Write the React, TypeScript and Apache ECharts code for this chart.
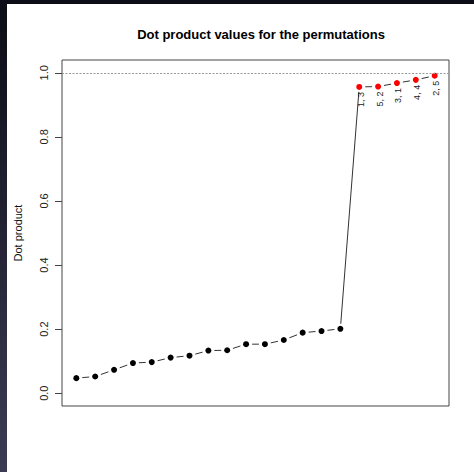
import React, { useEffect, useRef } from "react";
import * as echarts from "echarts";

// Permutation order along the x axis
const permIndex = [1, 2, 3, 4, 5, 6, 7, 8, 9, 10, 11, 12, 13, 14, 15, 16, 17, 18, 19, 20];
// Dot product for each permutation
const dotProducts = [
  0.047, 0.052, 0.073, 0.094, 0.097, 0.111, 0.117, 0.133, 0.134, 0.153,
  0.153, 0.166, 0.189, 0.194, 0.201, 0.956, 0.957, 0.968, 0.978, 0.991,
];
// Labels of the highlighted permutations (the last five)
const highlightLabels = ["1, 3", "5, 2", "3, 1", "4, 4", "2, 5"];
const highlightCount = 5;
const yTicks = [0, 0.2, 0.4, 0.6, 0.8, 1.0];
const referenceLevel = 1.0;

const FONT = "'Liberation Sans', Arial, Helvetica, sans-serif";

export default function App() {
  const ref = useRef<HTMLDivElement>(null);

  useEffect(() => {
    if (!ref.current) return;
    const chart = echarts.init(ref.current, undefined, { renderer: "svg" });

    const n = permIndex.length;
    const firstHighlight = n - highlightCount;
    const plain = permIndex.slice(0, firstHighlight).map((x, i) => [x, dotProducts[i]]);
    const highlighted = permIndex
      .slice(firstHighlight)
      .map((x, i) => ({ value: [x, dotProducts[firstHighlight + i]], label: highlightLabels[i] }));
    const segments = permIndex.slice(0, n - 1).map((x, i) => [x, dotProducts[i], permIndex[i + 1], dotProducts[i + 1]]);

    chart.setOption({
      animation: false,
      backgroundColor: "#ffffff",
      title: {
        text: "Dot product values for the permutations",
        left: 256,
        top: 23,
        textAlign: "center",
        textStyle: { fontFamily: FONT, fontSize: 13, fontWeight: "bold", color: "#000" },
      },
      graphic: [
        { type: "rect", left: 0, top: 0, shape: { width: 474, height: 4 }, style: { fill: "#0c0c16" }, z: 100 },
        {
          type: "rect",
          left: 0,
          top: 0,
          shape: { width: 7, height: 472 },
          style: {
            fill: new echarts.graphic.LinearGradient(0, 0, 0, 1, [
              { offset: 0, color: "#0c0c16" },
              { offset: 1, color: "#3d3b54" },
            ]),
          },
          z: 100,
        },
      ],
      grid: {
        left: 62,
        top: 60,
        right: 25,
        bottom: 66,
        show: true,
        borderColor: "#444",
        borderWidth: 1,
        backgroundColor: "transparent",
      },
      xAxis: {
        type: "value",
        min: 0.24,
        max: 20.76,
        show: false,
      },
      yAxis: {
        type: "value",
        min: -0.04,
        max: 1.04,
        name: "Dot product",
        nameLocation: "middle",
        nameRotate: 90,
        nameGap: 39,
        nameTextStyle: { fontFamily: FONT, fontSize: 11, color: "#111" },
        axisLine: { show: false },
        splitLine: { show: false },
        axisTick: { show: true, length: 7, lineStyle: { color: "#444" }, customValues: yTicks },
        axisLabel: {
          rotate: 90,
          margin: 13,
          fontFamily: FONT,
          fontSize: 11,
          color: "#222",
          customValues: yTicks,
          formatter: (v: number) => v.toFixed(1),
        },
      },
      series: [
        {
          type: "custom",
          data: segments,
          encode: { x: [0, 2], y: [1, 3] },
          silent: true,
          z: 2,
          renderItem: (params: any, api: any) => {
            const p1 = api.coord([api.value(0), api.value(1)]);
            const p2 = api.coord([api.value(2), api.value(3)]);
            const dx = p2[0] - p1[0];
            const dy = p2[1] - p1[1];
            const len = Math.sqrt(dx * dx + dy * dy);
            const ux = dx / len;
            const uy = dy / len;
            const isJump = len > 40;
            const gap = isJump ? 5 : 6;
            return {
              type: "line",
              shape: {
                x1: p1[0] + ux * gap,
                y1: p1[1] + uy * gap,
                x2: p2[0] - ux * gap,
                y2: p2[1] - uy * gap,
              },
              style: { stroke: "#333", lineWidth: 1 },
            };
          },
          markLine: {
            silent: true,
            symbol: "none",
            label: { show: false },
            lineStyle: { color: "#999", type: [2, 1.5], width: 1 },
            data: [{ yAxis: referenceLevel }],
          },
        },
        {
          type: "scatter",
          data: plain,
          symbol: "circle",
          symbolSize: 6,
          itemStyle: { color: "#000", opacity: 1 },
          z: 3,
        },
        {
          type: "scatter",
          data: highlighted,
          symbol: "circle",
          symbolSize: 6,
          itemStyle: { color: "#ff0000", opacity: 1 },
          z: 3,
          label: {
            show: true,
            position: [4.5, 8],
            rotate: 90,
            align: "right",
            verticalAlign: "middle",
            fontFamily: FONT,
            fontSize: 9,
            color: "#222",
            formatter: (p: any) => p.data.label,
          },
        },
      ],
    });

    return () => chart.dispose();
  }, []);

  return (
    <div
      ref={ref}
      style={{ position: "absolute", left: 0, top: 0, width: 474, height: 472, background: "#fff" }}
    />
  );
}
